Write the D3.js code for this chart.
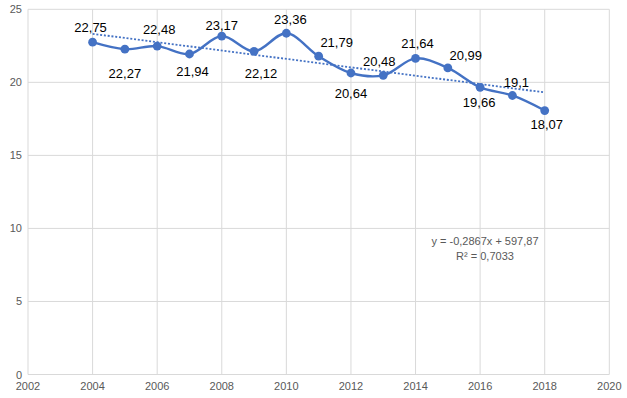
<!DOCTYPE html>
<html><head><meta charset="utf-8">
<script src="https://cdn.jsdelivr.net/npm/d3@7"></script>
<style>body{margin:0;background:#fff}svg{display:block}</style>
</head><body><svg id="c" width="627" height="398"></svg>
<script>
const years = [2004,2005,2006,2007,2008,2009,2010,2011,2012,2013,2014,2015,2016,2017,2018];
const values = [22.75,22.27,22.48,21.94,23.17,22.12,23.36,21.79,20.64,20.48,21.64,20.99,19.66,19.1,18.07];
const labels = ["22,75","22,27","22,48","21,94","23,17","22,12","23,36","21,79","20,64","20,48","21,64","20,99","19,66","19,1","18,07"];
const xTicks = [2002,2004,2006,2008,2010,2012,2014,2016,2018,2020];
const yTicks = [0,5,10,15,20,25];
const trendSlope = -0.2867, trendIntercept = 597.87;
const trendText = ["y = -0,2867x + 597,87","R² = 0,7033"];
// label placement (layout): [dx, dy] relative to point
const labelOffsets = [[-2,-15],[0,24],[2,-17],[3,17],[0,-11],[7,22],[4,-14],[18,-14],[0,20],[-4,-14],[2,-15],[18,-13],[-1,15],[4,-13],[2,14]];

const svg = d3.select("#c");
const x = d3.scaleLinear().domain([2002,2020]).range([28,609.3]);
const y = d3.scaleLinear().domain([0,25]).range([374.5,9.3]);
const grid = "#d9d9d9", txt = "#595959", blue = "#4472C4";

svg.append("g").selectAll("line").data(yTicks).join("line")
  .attr("x1",x(2002)).attr("x2",x(2020)).attr("y1",d=>y(d)).attr("y2",d=>y(d))
  .attr("stroke",grid).attr("stroke-width",1);
svg.append("g").selectAll("line").data(xTicks).join("line")
  .attr("x1",d=>x(d)).attr("x2",d=>x(d)).attr("y1",y(0)).attr("y2",y(25))
  .attr("stroke",grid).attr("stroke-width",1);

const font = "'Liberation Sans', Arial, sans-serif";
svg.append("g").selectAll("text").data(yTicks).join("text")
  .attr("x",22).attr("y",d=>y(d)+4).attr("text-anchor","end")
  .attr("font-family",font).attr("font-size",11).attr("fill",txt).text(d=>d);
svg.append("g").selectAll("text").data(xTicks).join("text")
  .attr("x",d=>x(d)).attr("y",390).attr("text-anchor","middle")
  .attr("font-family",font).attr("font-size",11).attr("fill",txt).text(d=>d);

// trendline
const t0 = years[0], t1 = years[years.length-1];
svg.append("line")
  .attr("x1",x(t0)).attr("y1",y(trendSlope*t0+trendIntercept))
  .attr("x2",x(t1)).attr("y2",y(trendSlope*t1+trendIntercept))
  .attr("stroke",blue).attr("stroke-width",1.8).attr("stroke-dasharray","2,1.8");

const line = d3.line().x((d,i)=>x(years[i])).y(d=>y(d)).curve(d3.curveCatmullRom.alpha(0.5));
svg.append("path").datum(values).attr("d",line)
  .attr("fill","none").attr("stroke",blue).attr("stroke-width",2.4);
svg.append("g").selectAll("circle").data(values).join("circle")
  .attr("cx",(d,i)=>x(years[i])).attr("cy",d=>y(d)).attr("r",4.4).attr("fill",blue);

svg.append("g").selectAll("text").data(values).join("text")
  .attr("x",(d,i)=>x(years[i])+labelOffsets[i][0])
  .attr("y",(d,i)=>y(d)+labelOffsets[i][1]+4.7)
  .attr("text-anchor","middle").attr("font-family",font).attr("font-size",13)
  .attr("fill","#000").text((d,i)=>labels[i]);

svg.append("g").selectAll("text").data(trendText).join("text")
  .attr("x",485).attr("y",(d,i)=>245+i*15).attr("text-anchor","middle")
  .attr("font-family",font).attr("font-size",11).attr("fill",txt).text(d=>d);
</script></body></html>
